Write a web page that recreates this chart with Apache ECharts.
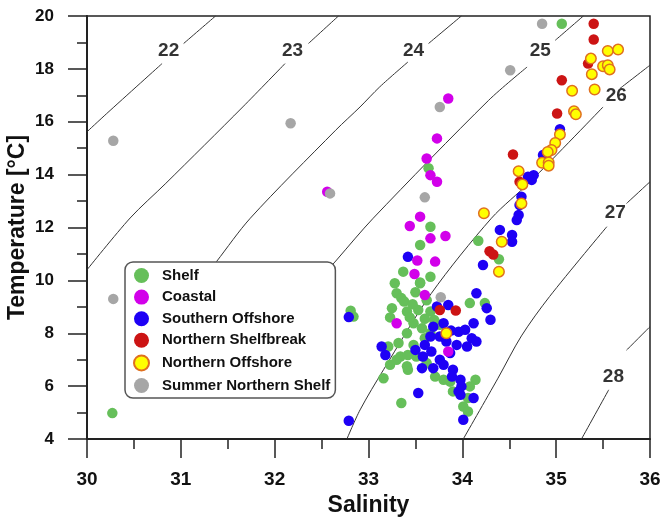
<!DOCTYPE html>
<html>
<head>
<meta charset="utf-8">
<script src="https://cdn.jsdelivr.net/npm/echarts@6/dist/echarts.min.js"></script>
<style>
  html, body { margin: 0; padding: 0; background: #fff; }
  #ts { width: 662px; height: 518px; }
</style>
</head>
<body>
<div id="ts"></div>
<script>
// [salinity, temperature]
var shelf = [[35.06,19.71],[30.27,4.98],[32.81,8.85],[32.84,8.63],[33.64,14.24],[33.66,12.03],[33.55,11.34],
    [34.17,11.50],[34.39,10.80],[33.37,10.33],[33.66,10.14],[33.55,9.92],[33.28,9.89],[33.30,9.51],[33.35,9.33],
    [33.55,9.89],[33.41,8.82],[33.53,8.88],[33.66,8.82],[34.08,9.14],[34.24,9.14],[33.48,8.38],[33.57,8.19],
    [33.41,8.00],[33.32,7.63],[33.21,7.50],[33.48,7.56],[33.60,7.81],[33.66,8.00],[33.34,7.12],[33.23,6.81],
    [33.42,6.62],[33.16,6.30],[33.51,7.12],[33.62,6.87],[33.71,6.36],[33.80,6.24],[33.90,5.80],[33.87,6.17],
    [34.14,6.24],[34.08,5.99],[33.35,5.36],[34.01,5.23],[34.06,5.55],[33.76,8.32],[34.06,5.04],[33.41,6.75],
    [33.44,8.60],[33.38,9.20],[33.60,8.55],[33.70,8.50],[33.42,7.18],[33.30,7.00],[33.25,8.95],[33.50,9.55],
    [33.47,9.10],[33.62,9.25],[33.23,8.60]];
var coastal = [[32.56,13.35],[33.85,16.88],[33.73,15.37],[33.62,14.61],[33.66,13.98],[33.73,13.73],[33.55,12.41],
    [33.44,12.06],[33.66,11.59],[33.82,11.68],[33.52,10.75],[33.71,10.71],[33.49,10.24],[33.60,9.45],[33.30,8.38],
    [33.85,7.31]];
var southernOffshore = [[35.04,15.72],[34.86,14.74],[34.76,13.98],[34.74,13.80],[34.70,13.92],[34.63,13.16],
    [34.61,12.85],[34.60,12.47],[34.58,12.28],[34.53,11.72],[34.53,11.46],[34.40,11.91],[34.22,10.58],[34.15,9.51],
    [33.42,10.89],[34.26,8.95],[34.30,8.51],[34.12,8.38],[33.14,7.50],[33.18,7.18],[33.53,5.74],[34.12,5.55],
    [34.01,4.73],[32.79,8.61],[32.79,4.69],[33.73,9.01],[33.85,9.07],[33.69,8.25],[33.76,7.88],[33.66,7.88],
    [33.96,8.06],[34.03,8.13],[34.10,7.81],[34.15,7.69],[34.05,7.50],[33.94,7.56],[33.58,7.12],[33.67,7.31],
    [33.76,7.00],[33.87,7.25],[33.57,6.68],[33.69,6.68],[33.80,6.81],[33.90,6.62],[33.89,6.36],[33.98,6.24],
    [33.99,5.99],[33.96,5.80],[33.98,5.67],[33.60,7.56],[33.83,7.69],[33.50,7.37],[33.80,8.38],[33.88,8.10]];
var northernShelfbreak = [[35.40,19.71],[35.40,19.11],[35.34,18.20],[35.06,17.57],[35.01,16.31],[34.54,14.76],
    [34.61,13.73],[34.29,11.10],[34.33,10.98],[33.76,8.88],[33.93,8.86]];
var northernOffshore = [[35.55,18.68],[35.66,18.73],[35.37,18.39],[35.50,18.10],[35.55,18.14],[35.57,17.98],
    [35.38,17.80],[35.41,17.22],[35.17,17.17],[35.19,16.40],[35.21,16.28],[35.04,15.52],[34.99,15.20],[34.95,14.93],
    [34.91,14.86],[34.85,14.45],[34.92,14.46],[34.92,14.34],[34.60,14.13],[34.64,13.63],[34.63,12.91],[34.23,12.54],
    [34.42,11.46],[34.39,10.33],[33.83,8.00]];
var summerNorthernShelf = [[30.28,15.28],[32.17,15.94],[32.59,13.29],[34.85,19.71],[34.51,17.95],[33.76,16.56],
    [33.60,13.14],[30.28,9.30],[33.77,9.36]];

// sigma-t isopycnals, each split around its label
var isopycnal22 = [[[30.00,15.62],[30.21,16.31],[30.80,18.20]], [[31.03,18.96],[31.37,20.00]]];
var isopycnal23 = [[[30.00,10.40],[30.46,12.36],[30.84,13.67],[31.66,16.56],[32.11,18.20]], [[32.36,18.96],[32.68,20.00]]];
var isopycnal24 = [[[31.05,9.20],[31.38,10.71],[31.74,12.35],[32.65,15.68],[32.91,16.56],[33.12,17.32],[33.42,18.26]], [[33.64,18.96],[33.99,20.00]]];
var isopycnal25 = [[[32.35,9.50],[32.66,10.77],[33.05,12.35],[34.28,16.81],[34.69,18.07]], [[34.99,19.08],[35.29,20.00]]];
var isopycnal26 = [[[32.77,4.00],[32.91,5.10],[33.16,6.62],[33.67,9.51],[34.31,12.35],[34.72,13.72],[35.50,16.56]], [[35.68,17.26],[36.00,18.14]]];
var isopycnal27 = [[[34.01,4.00],[34.38,6.30],[34.63,7.90],[34.93,9.39],[35.54,12.03]], [[35.75,12.91],[36.00,13.73]]];
var isopycnal28 = [[[35.27,4.00],[35.56,5.86]], [[35.75,7.36],[36.00,8.25]]];
var contourLabels = [[30.87,18.70,'22'],[32.19,18.70,'23'],[33.48,18.70,'24'],[34.83,18.70,'25'],
    [35.64,17.00,'26'],[35.63,12.54,'27'],[35.61,6.36,'28']];

var legendNames = ['Shelf','Coastal','Southern Offshore','Northern Shelfbreak','Northern Offshore','Summer Northern Shelf'];

window.onload = function () {
    var chart = echarts.init(document.getElementById('ts'));
    var font = 'Liberation Sans, Arial, sans-serif';
    var series = [];

    [isopycnal22, isopycnal23, isopycnal24, isopycnal25, isopycnal26, isopycnal27, isopycnal28].forEach(function (iso) {
        iso.forEach(function (seg) {
            series.push({
                type: 'line', data: seg, smooth: 0.3, symbol: 'none', silent: true,
                lineStyle: { color: '#333', width: 1 }, z: 1
            });
        });
    });
    series.push({
        type: 'scatter', data: contourLabels, symbolSize: 0, silent: true,
        label: {
            show: true, position: 'inside', formatter: function (p) { return p.data[2]; },
            color: '#000', fontSize: 19, fontWeight: 'bold', fontFamily: font
        }
    });

    var scatter = function (name, data, color, border) {
        return {
            name: name, type: 'scatter', data: data, symbolSize: 10.5,
            itemStyle: { color: color, borderColor: border || color, borderWidth: border ? 1.5 : 0, opacity: 1 }
        };
    };
    // draw order: blue under magenta, gray last
    series.push(scatter('Shelf', shelf, '#66bf5a'));
    series.push(scatter('Southern Offshore', southernOffshore, '#1e00f5'));
    series.push(scatter('Coastal', coastal, '#d200ea'));
    series.push(scatter('Northern Shelfbreak', northernShelfbreak, '#cc1414'));
    series.push(scatter('Northern Offshore', northernOffshore, '#ffff00', '#e0701e'));
    series.push(scatter('Summer Northern Shelf', summerNorthernShelf, '#a6a6a6'));

    var option = {
        animation: false,
        grid: {
            left: 87, right: 12, top: 16, bottom: 79, outerBoundsMode: 'none', containLabel: false,
            show: true, borderColor: '#222', borderWidth: 1.5
        },
        legend: {
            data: legendNames, orient: 'vertical', left: 125, top: 262,
            itemWidth: 15, itemHeight: 15, itemGap: 6.6,
            padding: [6, 5, 5, 8],
            backgroundColor: '#fff', borderColor: '#555', borderWidth: 1.5, borderRadius: 8,
            textStyle: { fontSize: 15, fontWeight: 'bold', color: '#111', fontFamily: font, padding: [0, 0, 0, 8] }
        },
        xAxis: {
            type: 'value', min: 30, max: 36, interval: 1,
            name: 'Salinity', nameLocation: 'middle', nameGap: 53,
            nameTextStyle: { fontSize: 23, fontWeight: 'bold', color: '#111', fontFamily: font },
            axisLine: { lineStyle: { color: '#222', width: 2 } },
            axisTick: { length: 19, lineStyle: { color: '#222', width: 1.5 } },
            minorTick: { show: true, splitNumber: 2, length: 10, lineStyle: { color: '#222', width: 1.5 } },
            axisLabel: { margin: 31, fontSize: 19, fontWeight: 'bold', color: '#111', fontFamily: font },
            splitLine: { show: false }
        },
        yAxis: {
            type: 'value', min: 4, max: 20, interval: 2,
            name: 'Temperature [°C]', nameLocation: 'middle', nameGap: 58, nameMoveOverlap: false,
            nameTextStyle: { fontSize: 23, fontWeight: 'bold', color: '#111', fontFamily: font },
            axisLine: { lineStyle: { color: '#222', width: 2 } },
            axisTick: { length: 19, lineStyle: { color: '#222', width: 1.5 } },
            minorTick: { show: true, splitNumber: 2, length: 10, lineStyle: { color: '#222', width: 1.5 } },
            axisLabel: { margin: 33, fontSize: 17, fontWeight: 'bold', color: '#111', fontFamily: font },
            splitLine: { show: false }
        },
        series: series
    };
    chart.setOption(option);
};
</script>
</body>
</html>
